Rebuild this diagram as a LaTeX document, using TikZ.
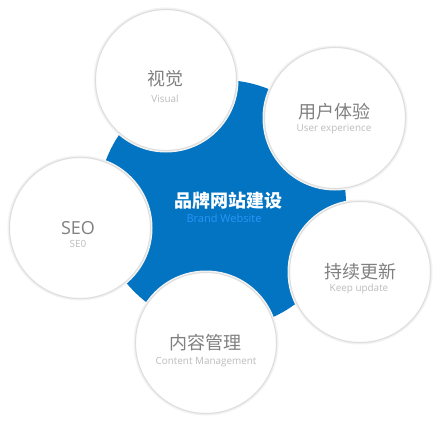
\documentclass[tikz,border=0pt]{standalone}
\usepackage{fontspec}
\setmainfont{Open Sans}
\newfontfamily\cjk{Noto Sans CJK SC}
\definecolor{brandblue}{RGB}{3,116,194}
\definecolor{lightblue}{RGB}{38,150,250}
\definecolor{titlegray}{RGB}{128,128,128}
\definecolor{subgray}{RGB}{188,188,188}
\begin{document}
\begin{tikzpicture}[x=1pt,y=-1pt,
  hubshape/.style={circle, fill=brandblue, minimum size=248pt, inner sep=0pt},
  bubble/.style={circle, minimum size=141pt, inner sep=0pt, fill=white,
    draw=black!13, line width=1.1pt, preaction={draw=black!5, line width=4pt}},
  cntitle/.style={inner sep=0pt, text=titlegray, font=\cjk\fontsize{18}{20}\selectfont},
  entitle/.style={inner sep=0pt, text=titlegray, font=\fontsize{18}{20}\selectfont},
  subtitle/.style={inner sep=0pt, text=subgray, font=\fontsize{9.9}{11}\selectfont}]
\useasboundingbox (0,0) rectangle (444,425);
\fill[white] (0,0) rectangle (444,425);
\node[hubshape] (hub) at (222,204) {};
\node[bubble] (b1) at (166,80) {};
\node[bubble] (b2) at (335,118) {};
\node[bubble] (b3) at (80,228) {};
\node[bubble] (b4) at (360,272) {};
\node[bubble] (b5) at (206,343) {};
% centre
\node[inner sep=0pt, text=white, font=\cjk\bfseries\fontsize{18}{20}\selectfont] (ht) at (228,201) {品牌网站建设};
\node[inner sep=0pt, text=lightblue, font=\fontsize{11}{12}\selectfont] (hs) at (224,218) {Brand Website};
% bubbles
\node[cntitle] (t1) at (165,79) {视觉};
\node[subtitle] (s1) at (165,99) {Visual};
\node[cntitle] (t2) at (334,112) {用户体验};
\node[subtitle] (s2) at (334,129) {User experience};
\node[entitle] (t3) at (78,228) {SEO};
\node[subtitle] (s3) at (78,244) {SE0};
\node[cntitle] (t4) at (360,272) {持续更新};
\node[subtitle] (s4) at (359,289) {Keep update};
\node[cntitle] (t5) at (205,343) {内容管理};
\node[subtitle] (s5) at (206,362) {Content Management};
\end{tikzpicture}
\end{document}
